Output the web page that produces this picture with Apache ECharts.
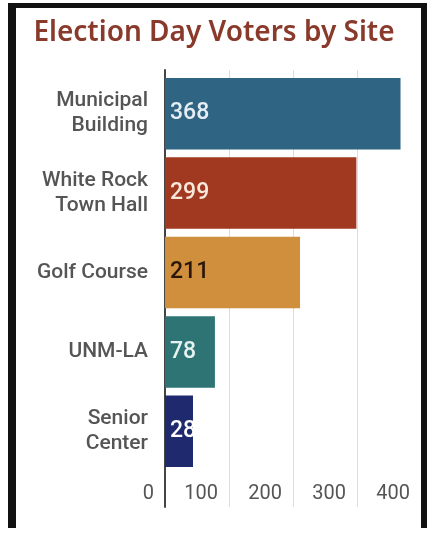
<!DOCTYPE html>
<html>
<head>
<meta charset="utf-8">
<script src="https://cdn.jsdelivr.net/npm/echarts@6/dist/echarts.min.js"></script>
<style>
html,body{margin:0;padding:0;background:#fff;}
#wrap{position:relative;width:428px;height:539px;overflow:hidden;background:#fff;}
#chart{position:absolute;left:0;top:0;width:428px;height:539px;}
#frame{position:absolute;left:8px;top:3px;width:405px;height:520px;border-left:8px solid #111;border-top:5px solid #111;border-right:6px solid #111;pointer-events:none;}
</style>
</head>
<body>
<div id="wrap"><div id="chart"></div><div id="frame"></div></div>
<script>
const titleText = 'Election Day Voters by Site';
const sites = ['Municipal\nBuilding', 'White Rock\nTown Hall', 'Golf Course', 'UNM-LA', 'Senior\nCenter'];
const voters = [368, 299, 211, 78, 28];
const barColors = ['#2f6482', '#a0391f', '#d08f3d', '#2e7475', '#1f2a6e'];
const labelColors = ['#e6eef4', '#f8e8dc', '#2a1608', '#e6f2f0', '#ffffff'];
const xTicks = [0, 100, 200, 300, 400];

const chart = echarts.init(document.getElementById('chart'), null, {renderer: 'canvas'});
const option = {
  backgroundColor: '#ffffff',
  animation: false,
  title: {
    text: titleText,
    left: 'center',
    top: 14,
    textStyle: {fontFamily: 'Noto Sans', fontWeight: 600, fontSize: 28, color: '#8a3a2b'}
  },
  grid: [
    {left: 165, right: 7, top: 74, bottom: 68},
    {left: 165, right: 7, top: 70, bottom: 32}
  ],
  xAxis: [
    {gridIndex: 0, type: 'value', min: 0, max: 400, show: false},
    {gridIndex: 1, type: 'value', min: xTicks[0], max: xTicks[xTicks.length - 1], interval: 100,
      axisLine: {show: false}, axisTick: {show: false},
      splitLine: {show: true, lineStyle: {color: '#dcdcdc', width: 1}},
      axisLabel: {inside: true, margin: 3, align: 'right', padding: [0, 11, 0, 0],
        fontFamily: 'Roboto', fontSize: 20, color: '#555555'}}
  ],
  yAxis: [
    {gridIndex: 0, type: 'category', inverse: true, data: sites,
      axisLine: {show: false}, axisTick: {show: false},
      axisLabel: {margin: 17, fontFamily: 'Roboto', fontWeight: 500, fontSize: 21, lineHeight: 25, color: '#555555', align: 'right'}},
    {gridIndex: 1, type: 'value', min: 0, max: 1, show: true,
      axisLine: {show: true, onZero: false, lineStyle: {color: '#444444', width: 2}},
      axisTick: {show: false}, axisLabel: {show: false}, splitLine: {show: false}}
  ],
  series: [{
    type: 'bar',
    xAxisIndex: 0, yAxisIndex: 0,
    data: voters.map((v, i) => ({value: v, itemStyle: {color: barColors[i]},
      label: {color: labelColors[i]}})),
    barCategoryGap: '10%',
    barMinHeight: 28,
    label: {show: true, position: 'insideLeft', distance: 5,
      fontFamily: 'Roboto', fontWeight: 500, fontSize: 23}
  }]
};
chart.setOption(option);
</script>
</body>
</html>
